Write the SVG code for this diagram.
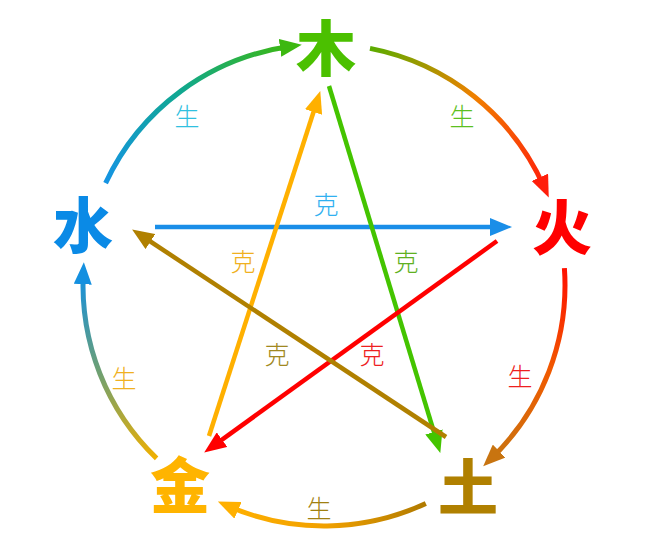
<svg xmlns="http://www.w3.org/2000/svg" width="652" height="548" viewBox="0 0 652 548">
  <style>
    .node { font-family: "Noto Sans CJK SC", "Noto Sans CJK JP", sans-serif; font-size: 60px; font-weight: 900; text-anchor: middle; }
    .lbl { font-family: "Noto Sans CJK SC", "Noto Sans CJK JP", sans-serif; font-size: 25px; font-weight: 300; text-anchor: middle; }
    .arc { fill: none; stroke-width: 5; stroke-linecap: butt; }
    .ke { fill: none; stroke-width: 4.5; }
  </style>
  <defs>
    <linearGradient id="g1" gradientUnits="userSpaceOnUse" x1="105.6" y1="183.1" x2="290.9" y2="46.3">
      <stop offset="0" stop-color="#1594e4"/>
      <stop offset="0.5" stop-color="#10a890"/>
      <stop offset="1" stop-color="#3cb810"/>
    </linearGradient>
    <linearGradient id="g2" gradientUnits="userSpaceOnUse" x1="370" y1="48.4" x2="544.3" y2="187.4">
      <stop offset="0" stop-color="#5aac00"/>
      <stop offset="0.5" stop-color="#f08000"/>
      <stop offset="1" stop-color="#ff1e0a"/>
    </linearGradient>
    <linearGradient id="g3" gradientUnits="userSpaceOnUse" x1="564.4" y1="268.2" x2="491.1" y2="458.7">
      <stop offset="0" stop-color="#ff1000"/>
      <stop offset="0.5" stop-color="#f05a00"/>
      <stop offset="1" stop-color="#c87410"/>
    </linearGradient>
    <linearGradient id="g4" gradientUnits="userSpaceOnUse" x1="425.8" y1="503.4" x2="227.9" y2="506">
      <stop offset="0" stop-color="#b07a00"/>
      <stop offset="0.5" stop-color="#f0a000"/>
      <stop offset="1" stop-color="#ffb000"/>
    </linearGradient>
    <linearGradient id="g5" gradientUnits="userSpaceOnUse" x1="156.6" y1="458.4" x2="83.3" y2="273.2">
      <stop offset="0" stop-color="#f0b000"/>
      <stop offset="0.5" stop-color="#70a070"/>
      <stop offset="1" stop-color="#1490e0"/>
    </linearGradient>
    <marker id="a1" markerUnits="userSpaceOnUse" markerWidth="22" markerHeight="18" refX="11" refY="9" orient="auto"><path d="M0,0 L22,9 L0,18 z" fill="#3cb810"/></marker>
    <marker id="a2" markerUnits="userSpaceOnUse" markerWidth="22" markerHeight="18" refX="11" refY="9" orient="auto"><path d="M0,0 L22,9 L0,18 z" fill="#ff1e0a"/></marker>
    <marker id="a3" markerUnits="userSpaceOnUse" markerWidth="22" markerHeight="18" refX="11" refY="9" orient="auto"><path d="M0,0 L22,9 L0,18 z" fill="#c87410"/></marker>
    <marker id="a4" markerUnits="userSpaceOnUse" markerWidth="22" markerHeight="18" refX="11" refY="9" orient="auto"><path d="M0,0 L22,9 L0,18 z" fill="#ffb000"/></marker>
    <marker id="a5" markerUnits="userSpaceOnUse" markerWidth="22" markerHeight="18" refX="11" refY="9" orient="auto"><path d="M0,0 L22,9 L0,18 z" fill="#1490e0"/></marker>
    <marker id="kb" markerUnits="userSpaceOnUse" markerWidth="22" markerHeight="18" refX="11" refY="9" orient="auto"><path d="M0,0 L22,9 L0,18 z" fill="#1a8ee8"/></marker>
    <marker id="kg" markerUnits="userSpaceOnUse" markerWidth="22" markerHeight="18" refX="11" refY="9" orient="auto"><path d="M0,0 L22,9 L0,18 z" fill="#44c400"/></marker>
    <marker id="ka" markerUnits="userSpaceOnUse" markerWidth="22" markerHeight="18" refX="11" refY="9" orient="auto"><path d="M0,0 L22,9 L0,18 z" fill="#ffb000"/></marker>
    <marker id="kr" markerUnits="userSpaceOnUse" markerWidth="22" markerHeight="18" refX="11" refY="9" orient="auto"><path d="M0,0 L22,9 L0,18 z" fill="#ff0000"/></marker>
    <marker id="kn" markerUnits="userSpaceOnUse" markerWidth="22" markerHeight="18" refX="11" refY="9" orient="auto"><path d="M0,0 L22,9 L0,18 z" fill="#b08000"/></marker>
  </defs>
  <rect width="652" height="548" fill="#ffffff"/>

  <g id="connectors">
    <path class="arc" d="M105.6,183.1 A241,241 0 0 1 290.9,46.3" stroke="url(#g1)" marker-end="url(#a1)"/>
    <path class="arc" d="M370,48.4 A241,241 0 0 1 544.3,187.4" stroke="url(#g2)" marker-end="url(#a2)"/>
    <path class="arc" d="M564.4,268.2 A241,241 0 0 1 491.1,458.7" stroke="url(#g3)" marker-end="url(#a3)"/>
    <path class="arc" d="M425.8,503.4 A241,241 0 0 1 227.9,506" stroke="url(#g4)" marker-end="url(#a4)"/>
    <path class="arc" d="M156.6,458.4 A241,241 0 0 1 83.3,273.2" stroke="url(#g5)" marker-end="url(#a5)"/>

    <path class="ke" d="M155,227 L501,227" stroke="#1a8ee8" marker-end="url(#kb)"/>
    <path class="ke" d="M329,86 L437.1,442.4" stroke="#44c400" marker-end="url(#kg)"/>
    <path class="ke" d="M209,436 L316.9,101.5" stroke="#ffb000" marker-end="url(#ka)"/>
    <path class="ke" d="M497,241 L213.1,446.1" stroke="#ff0000" marker-end="url(#kr)"/>
    <path class="ke" d="M446,437 L141.3,235.5" stroke="#b08000" marker-end="url(#kn)"/>
  </g>

  <g id="labels">
    <text class="lbl" x="187" y="126" fill="#30c0e0">生</text>
    <text class="lbl" x="462" y="126" fill="#5cc020">生</text>
    <text class="lbl" x="520" y="386" fill="#ee2020">生</text>
    <text class="lbl" x="319" y="518" fill="#a08010">生</text>
    <text class="lbl" x="124" y="388" fill="#f0b020">生</text>
    <text class="lbl" x="326" y="214" fill="#30b0f0">克</text>
    <text class="lbl" x="243" y="271" fill="#f0b020">克</text>
    <text class="lbl" x="406" y="271" fill="#60b020">克</text>
    <text class="lbl" x="277" y="364" fill="#a08820">克</text>
    <text class="lbl" x="372" y="364" fill="#ee2020">克</text>
  </g>

  <g id="node-wood"><text class="node" x="326" y="71" fill="#4bc000">木</text></g>
  <g id="node-fire"><text class="node" x="562" y="250" fill="#ff0000">火</text></g>
  <g id="node-earth"><text class="node" x="468" y="510" fill="#b08000">土</text></g>
  <g id="node-metal"><text class="node" x="180" y="508" fill="#ffb400">金</text></g>
  <g id="node-water"><text class="node" x="83" y="248" fill="#0a8ae6">水</text></g>
</svg>
